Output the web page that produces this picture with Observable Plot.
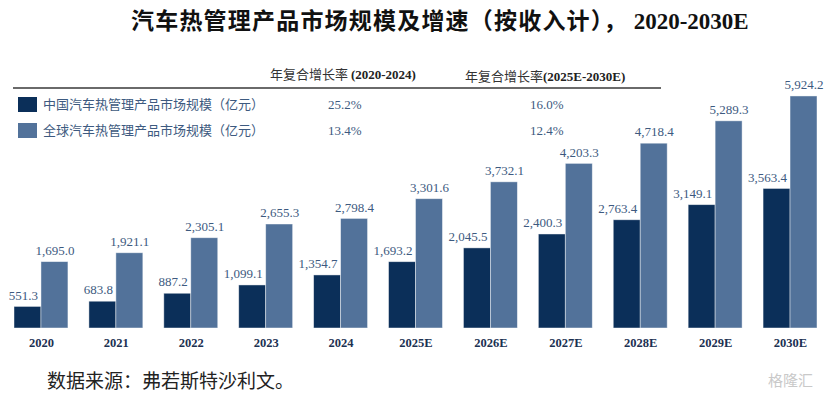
<!DOCTYPE html>
<html>
<head>
<meta charset="utf-8">
<script src="https://cdn.jsdelivr.net/npm/d3@7"></script>
<script src="https://cdn.jsdelivr.net/npm/@observablehq/plot@0.6"></script>
<style>
  html, body { margin: 0; padding: 0; background: #fff; }
  #wrap { position: relative; width: 831px; height: 393px; overflow: hidden; background: #fff; }
  #wrap svg { position: absolute; left: 0; top: 0; }
  .abs { position: absolute; white-space: nowrap; }
  #title { left: 131px; top: 6px; font-size: 23px; line-height: 26px; font-weight: 700; color: #111;
           font-family: "Noto Sans CJK SC", sans-serif; letter-spacing: 1.2px; }
  #title .lat { font-family: "Liberation Serif", serif; font-weight: 700; letter-spacing: 0; margin-left: 6px; }
  .hdr { font-size: 13px; line-height: 16px; color: #333; font-family: "Noto Sans CJK SC", sans-serif; }
  .hdr b { font-family: "Liberation Serif", serif; font-weight: 700; color: #222; }
  #rule { left: 13px; top: 87px; width: 648px; height: 2px; background: #6a6a6a; }
  .sw { width: 19px; height: 15px; }
  .lab { font-size: 13px; line-height: 16px; color: #3d5a80; font-family: "Liberation Serif", "Noto Sans CJK SC", serif; }
  .pct { font-size: 13px; line-height: 16px; color: #3d5a80; font-family: "Liberation Serif", serif; }
  #source { left: 47px; top: 368px; font-size: 19px; line-height: 24px; color: #222; font-family: "Noto Sans CJK SC", sans-serif; }
  #wm { left: 768px; top: 370px; font-size: 15px; line-height: 20px; color: #c9c9c9; font-family: "Noto Sans CJK SC", sans-serif; }
</style>
</head>
<body>
<div id="wrap"></div>
<script>
// ---- data ----
const years = ["2020", "2021", "2022", "2023", "2024", "2025E", "2026E", "2027E", "2028E", "2029E", "2030E"];
const chinaValues = [551.3, 683.8, 887.2, 1099.1, 1354.7, 1693.2, 2045.5, 2400.3, 2763.4, 3149.1, 3563.4];
const globalValues = [1695.0, 1921.1, 2305.1, 2655.3, 2798.4, 3301.6, 3732.1, 4203.3, 4718.4, 5289.3, 5924.2];
const seriesNames = ["中国汽车热管理产品市场规模（亿元）", "全球汽车热管理产品市场规模（亿元）"];
const seriesColors = ["#0b2f59", "#52729a"];
const cagrHeaders = ["年复合增长率 ", "(2020-2024)", "年复合增长率", "(2025E-2030E)"];
const cagrHistoric = ["25.2%", "13.4%"];
const cagrForecast = ["16.0%", "12.4%"];
const titleText = "汽车热管理产品市场规模及增速（按收入计），";
const titleYears = "2020-2030E";
const sourceText = "数据来源：弗若斯特沙利文。";

const rows = [];
years.forEach((y, i) => {
  rows.push({year: y, series: seriesNames[0], value: chinaValues[i]});
  rows.push({year: y, series: seriesNames[1], value: globalValues[i]});
});
const chinaRows = rows.filter(d => d.series === seriesNames[0]);
const globalRows = rows.filter(d => d.series === seriesNames[1]);
const fmt = d3.format(",.1f");
const labelStyle = {fill: "#3d5a80", fontSize: 13, fontFamily: "Liberation Serif, serif", lineAnchor: "middle", dy: -11.5};

const chart = Plot.plot({
  width: 831,
  height: 393,
  marginTop: 93,
  marginBottom: 65,
  marginLeft: 14,
  marginRight: 14,
  style: {background: "transparent", overflow: "visible"},
  fx: {domain: years, paddingInner: 0.28, paddingOuter: 0, round: false, label: null},
  x: {domain: seriesNames, padding: 0, round: false, axis: null},
  y: {domain: [0, 6000], axis: null},
  color: {domain: seriesNames, range: seriesColors},
  marks: [
    Plot.barY(rows, {fx: "year", x: "series", y: "value", fill: "series",
      stroke: "#ffffff", strokeOpacity: 0.55, strokeWidth: 0.8}),
    Plot.text(chinaRows, {fx: "year", x: "series", y: "value", text: d => fmt(d.value),
      textAnchor: "end", dx: 10, ...labelStyle}),
    Plot.text(globalRows, {fx: "year", x: "series", y: "value", text: d => fmt(d.value),
      ...labelStyle}),
    Plot.axisFx({anchor: "bottom", tickSize: 0, tickPadding: 10, label: null,
      fontSize: 12.5, fontWeight: "bold", fontFamily: "Liberation Serif, serif", fill: "#1c3152"})
  ]
});

const wrap = document.getElementById("wrap");
wrap.appendChild(chart);

function add(html, cls, style) {
  const d = document.createElement("div");
  d.className = "abs " + (cls || "");
  if (style) Object.assign(d.style, style);
  d.innerHTML = html;
  wrap.appendChild(d);
  return d;
}
add(titleText + '<span class="lat">' + titleYears + '</span>', "", {}).id = "title";
add(cagrHeaders[0] + '<b>' + cagrHeaders[1] + '</b>', "hdr", {left: "270px", top: "66px"});
add(cagrHeaders[2] + '<b>' + cagrHeaders[3] + '</b>', "hdr", {left: "465px", top: "68px"});
add("", "", {}).id = "rule";
const rowTops = [97, 123];
seriesNames.forEach((name, i) => {
  add("", "sw", {left: "18px", top: rowTops[i] + "px", background: seriesColors[i]});
  add(name, "lab", {left: "43px", top: (rowTops[i] - 0.5) + "px"});
  add(cagrHistoric[i], "pct", {left: "328px", top: (rowTops[i] - 0.5) + "px"});
  add(cagrForecast[i], "pct", {left: "530px", top: (rowTops[i] - 0.5) + "px"});
});
add(sourceText, "", {}).id = "source";
add("格隆汇", "", {}).id = "wm";
</script>
</body>
</html>
